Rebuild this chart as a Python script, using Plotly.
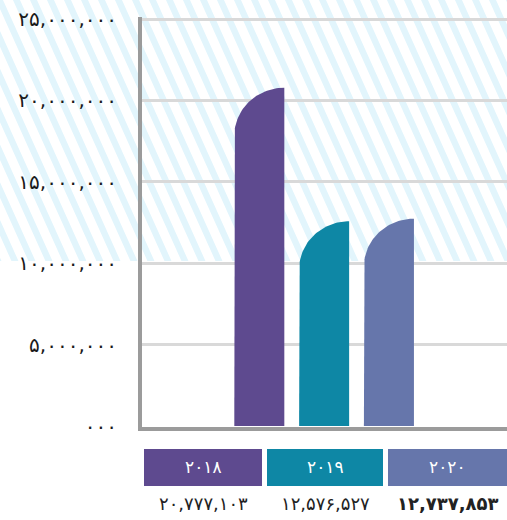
import math
import plotly.graph_objects as go

# data
years = ["۲۰۱۸", "۲۰۱۹", "۲۰۲۰"]
values = [20777103, 12576527, 12737853]
value_labels = ["۲۰,۷۷۷,۱۰۳", "۱۲,۵۷۶,۵۲۷", "<b>۱۲,۷۳۷,۸۵۳</b>"]
bar_colors = ["#5e4a8f", "#0e87a5", "#6676ab"]
y_tick_vals = [0, 5e6, 10e6, 15e6, 20e6, 25e6]
y_tick_text = ["۰۰۰", "۵,۰۰۰,۰۰۰", "۱۰,۰۰۰,۰۰۰", "۱۵,۰۰۰,۰۰۰", "۲۰,۰۰۰,۰۰۰", "۲۵,۰۰۰,۰۰۰"]

W, H = 507, 520
FONT = "DejaVu Sans"
bar_w = 0.772
r_y = 2.95e6  # height of the rounded top-left corner

fig = go.Figure()

# bars with a quarter-round top-left corner
for i, (v, c) in enumerate(zip(values, bar_colors)):
    xl, xr = i - bar_w / 2, i + bar_w / 2
    xs, ys = [xl, xl], [0, v - r_y]
    for k in range(1, 41):
        t = math.pi - k * (math.pi / 2) / 40
        xs.append(xr + bar_w * math.cos(t))
        ys.append(v - r_y + r_y * math.sin(t))
    xs += [xr, xl]
    ys += [0, 0]
    fig.add_trace(go.Scatter(x=xs, y=ys, fill="toself", fillcolor=c, mode="lines",
                             line=dict(width=0, color=c), hoverinfo="skip", showlegend=False))

# hatched band behind the upper part of the chart
hatch_bottom = 261
period, stripe, slant = 17, 7, 0.45
shift = hatch_bottom * slant
parts = []
a = -140
while a < W + 20:
    pts = [(a, 0), (a + stripe, 0), (a + stripe + shift, hatch_bottom), (a + shift, hatch_bottom)]
    pts = [(px / W, (H - py) / H) for px, py in pts]
    parts.append("M " + " L ".join(f"{x:.4f},{y:.4f}" for x, y in pts) + " Z")
    a += period
fig.add_shape(type="path", path=" ".join(parts), xref="paper", yref="paper",
              fillcolor="#e2f5fc", line_width=0, layer="below")

# year boxes under the plot
box_x = [(144, 262), (267, 383), (388, 507)]
for (x0, x1), c, yr, lab in zip(box_x, bar_colors, years, value_labels):
    fig.add_shape(type="rect", xref="paper", yref="paper",
                  x0=x0 / W, x1=x1 / W, y0=(H - 486) / H, y1=(H - 449) / H,
                  fillcolor=c, line_width=0)
    fig.add_annotation(x=(x0 + x1) / 2 / W, y=(H - 467) / H, xref="paper", yref="paper",
                       xanchor="center", yanchor="middle",
                       text=yr, showarrow=False, font=dict(family=FONT, size=17, color="white"))
    fig.add_annotation(x=(x0 + x1) / 2 / W, y=(H - 503) / H, xref="paper", yref="paper",
                       xanchor="center", yanchor="middle",
                       text=lab, showarrow=False, font=dict(family=FONT, size=18, color="#222222"))

fig.update_layout(
    width=W, height=H,
    margin=dict(l=0, r=0, t=0, b=0, autoexpand=False),
    paper_bgcolor="white",
    plot_bgcolor="rgba(0,0,0,0)",
    showlegend=False,
    xaxis=dict(domain=[142 / W, 1], range=[-1.81, 3.822], showgrid=False, zeroline=False,
               showticklabels=False, showline=True, linecolor="#9b9b9b", linewidth=4,
               fixedrange=True, automargin=False),
    yaxis=dict(domain=[(H - 426.7) / H, (H - 17.4) / H], range=[-0.043e6, 25.1e6],
               tickvals=y_tick_vals, ticktext=y_tick_text, ticklabelstandoff=17,
               tickfont=dict(family=FONT, size=20, color="#1a1a1a"),
               showgrid=True, gridcolor="#d9d9d9", gridwidth=3, zeroline=False,
               showline=True, linecolor="#9b9b9b", linewidth=4, fixedrange=True,
               automargin=False),
)

fig.write_html("out.html", post_script="document.body.style.margin='0';",
               config={"displayModeBar": False})
